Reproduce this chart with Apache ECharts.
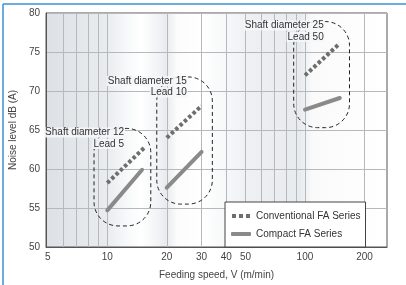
<!DOCTYPE html>
<html><head><meta charset="utf-8">
<script src="https://cdn.jsdelivr.net/npm/echarts@6/dist/echarts.min.js"></script>
<style>html,body{margin:0;padding:0;background:#fff}#c{width:406px;height:285px}</style>
</head><body><div id="c"></div>
<script>
const seriesNames = ['Conventional FA Series', 'Compact FA Series'];
const groupTitles = ['Shaft diameter 12', 'Shaft diameter 15', 'Shaft diameter 25'];
const groupLeads = ['Lead 5', 'Lead 10', 'Lead 50'];
const conventionalSpeed = [[10, 15.5], [20, 30], [100, 150]];
const conventionalNoise = [[58.2, 62.8], [64, 68.1], [72, 76.1]];
const compactSpeed = [[10, 15], [20, 30], [100, 150]];
const compactNoise = [[54.7, 59.9], [57.6, 62.2], [67.6, 69.1]];
const xTickLabels = [5, 10, 20, 30, 40, 50, 100, 200];
const xGridValues = [6, 7, 8, 9, 10, 20, 30, 40, 50, 60, 70, 80, 90, 100, 200];
const xRange = [4.9, 260];
const yRange = [50, 80];
const yStep = 5;
// callout extents in data units: [speed low, speed high], [noise low, noise high]
const groupSpeedRange = [[8.57, 16.6], [17.8, 34], [87.7, 168]];
const groupNoiseRange = [[52.7, 65.2], [55.5, 71.8], [65.3, 78.9]];

const lg = v => Math.log10(v);
const FONT = '"Liberation Sans", Arial, Helvetica, sans-serif';
const chart = echarts.init(document.getElementById('c'), null, {renderer: 'canvas'});

const series = [];
conventionalSpeed.forEach((s, i) => {
  series.push({
    name: seriesNames[0], type: 'line', symbol: 'none', silent: true, z: 3,
    color: '#6e6e6e',
    data: s.map((x, j) => [lg(x), conventionalNoise[i][j]]),
    lineStyle: {color: '#6e6e6e', width: 4, type: [3.5, 2.4], cap: 'butt'}
  });
});
compactSpeed.forEach((s, i) => {
  series.push({
    name: seriesNames[1], type: 'line', symbol: 'none', silent: true, z: 3,
    color: '#8a8a8a',
    data: s.map((x, j) => [lg(x), compactNoise[i][j]]),
    lineStyle: {color: '#8a8a8a', width: 4, cap: 'round'}
  });
});

chart.setOption({
  animation: false,
  textStyle: {fontFamily: FONT},
  grid: {
    left: 43, right: 19, top: 13, bottom: 35, show: true,
    borderColor: '#555', borderWidth: 1,
    backgroundColor: {
      type: 'linear', x: 0, y: 0, x2: 1, y2: 0,
      colorStops: [
        {offset: 0, color: '#dde1e5'},
        {offset: 0.18, color: '#e9ecef'},
        {offset: 0.24, color: '#f8f9fa'},
        {offset: 0.28, color: '#ffffff'},
        {offset: 0.33, color: '#f2f3f5'},
        {offset: 0.352, color: '#e8eaed'},
        {offset: 0.385, color: '#fcfcfc'},
        {offset: 0.46, color: '#ffffff'},
        {offset: 0.59, color: '#eef0f2'},
        {offset: 0.745, color: '#e8ebee'},
        {offset: 0.78, color: '#fafafa'},
        {offset: 1, color: '#ffffff'}
      ]
    }
  },
  xAxis: {
    type: 'value', min: lg(xRange[0]), max: lg(xRange[1]),
    name: 'Feeding speed, V (m/min)', nameLocation: 'middle', nameGap: 23,
    nameTextStyle: {fontSize: 10, color: '#444', fontFamily: FONT},
    axisLine: {show: true, lineStyle: {color: '#555', width: 1}},
    axisTick: {show: false, customValues: xGridValues.map(lg)},
    axisLabel: {
      customValues: xTickLabels.map(lg), fontSize: 10, color: '#444', margin: 5,
      fontFamily: FONT, formatter: v => String(Math.round(Math.pow(10, v)))
    },
    splitLine: {show: true, lineStyle: {color: '#b5b9bd', width: 1}}
  },
  yAxis: {
    type: 'value', min: yRange[0], max: yRange[1], interval: yStep,
    name: 'Noise level dB (A)', nameLocation: 'middle', nameGap: 22,
    nameTextStyle: {fontSize: 10, color: '#444', fontFamily: FONT},
    axisLine: {show: true, lineStyle: {color: '#555', width: 1}},
    axisTick: {show: false},
    axisLabel: {fontSize: 10, color: '#444', margin: 6, fontFamily: FONT},
    splitLine: {show: true, lineStyle: {color: '#b5b9bd', width: 1}}
  },
  legend: {
    data: [
      {name: seriesNames[0], icon: 'path://M0,0h4v4h-4zM7,0h4v4h-4zM14,0h4v4h-4z'},
      {name: seriesNames[1], icon: 'roundRect'}
    ],
    orient: 'vertical', left: 225, top: 202,
    itemWidth: 20, itemHeight: 4, itemGap: 6,
    padding: [8, 5, 7, 6],
    backgroundColor: '#fff', borderColor: '#444', borderWidth: 1,
    textStyle: {fontSize: 10, color: '#333', fontFamily: FONT, lineHeight: 12},
    selectedMode: false
  },
  series: series
});

function drawNotes() {
  const g = [];
  groupSpeedRange.forEach((sr, i) => {
    const p1 = chart.convertToPixel({gridIndex: 0}, [lg(sr[0]), groupNoiseRange[i][1]]);
    const p2 = chart.convertToPixel({gridIndex: 0}, [lg(sr[1]), groupNoiseRange[i][0]]);
    g.push({
      type: 'rect', silent: true, z: 60,
      shape: {x: p1[0], y: p1[1], width: p2[0] - p1[0], height: p2[1] - p1[1], r: 24},
      style: {fill: 'none', stroke: '#222', lineWidth: 1, lineDash: [4, 3]}
    });
    g.push({
      type: 'text', silent: true, z: 61, x: p1[0] + 31, y: p1[1] + 4,
      style: {text: groupTitles[i], align: 'right', verticalAlign: 'middle',
        font: '10px ' + FONT, fill: '#333', backgroundColor: 'rgba(245,246,248,0.9)', padding: [0, 1]}
    });
    g.push({
      type: 'text', silent: true, z: 61, x: p1[0] + 31, y: p1[1] + 15.5,
      style: {text: groupLeads[i], align: 'right', verticalAlign: 'middle',
        font: '10px ' + FONT, fill: '#333', backgroundColor: 'rgba(245,246,248,0.9)', padding: [0, 1]}
    });
  });
  g.push({type: 'line', silent: true, z: 70, shape: {x1: 3, y1: 4, x2: 406, y2: 4},
    style: {stroke: '#3a92d2', lineWidth: 1.5}});
  g.push({type: 'line', silent: true, z: 70, shape: {x1: 3, y1: 4, x2: 3, y2: 285},
    style: {stroke: '#3a92d2', lineWidth: 1.5}});
  chart.setOption({graphic: g});
}
drawNotes();
</script>
</body></html>
